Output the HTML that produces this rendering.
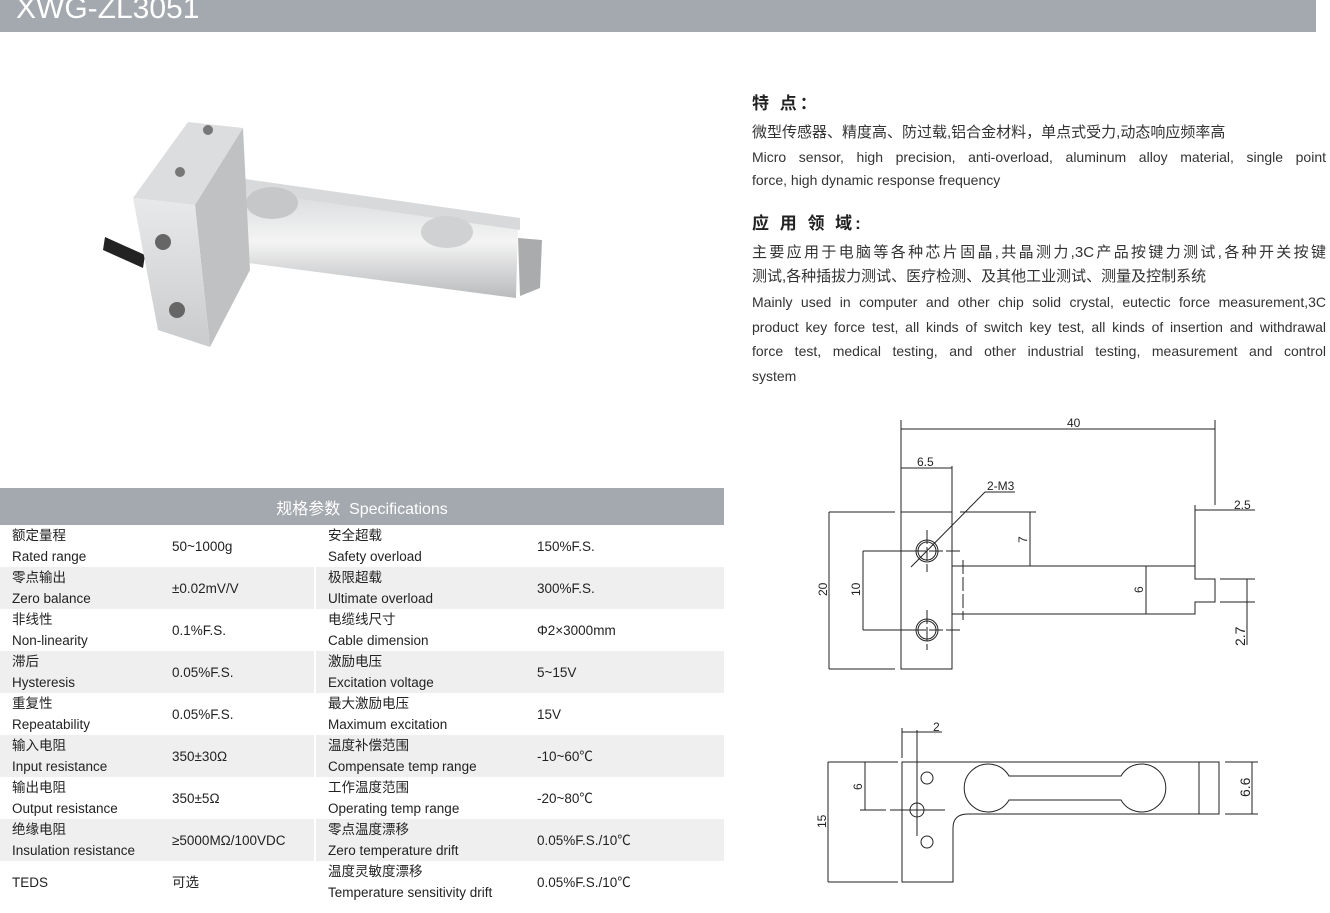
<!DOCTYPE html>
<html><head><meta charset="utf-8">
<style>
*{margin:0;padding:0;box-sizing:border-box}
body{width:1330px;height:913px;background:#fff;position:relative;overflow:hidden;font-family:"Liberation Sans","Noto Sans CJK SC",sans-serif;color:#333}
.hdr{position:absolute;left:0;top:0;width:1316px;height:32px;background:#a3a9ae}
.hdr span{position:absolute;left:16px;top:-8px;font-size:30px;color:#fff;letter-spacing:0px}
.t{position:absolute;left:752px;width:574px;font-size:14px;line-height:24px;color:#333;text-align:justify;text-align-last:justify}
.h{position:absolute;left:752px;font-size:17px;font-weight:bold;color:#222;letter-spacing:3px}
table{position:absolute;left:0;top:488px;width:724px;border-collapse:collapse;font-size:13.5px;color:#222}
th{height:37px;background:#a3a9ae;color:#fff;font-weight:normal;font-size:16px}
td{height:42px;padding-left:12px;vertical-align:middle;line-height:21px}
tr.g td{background:#efefef}
td.s{border-right:2px solid #fff}
</style></head><body>
<div class="hdr"><span>XWG-ZL3051</span></div>

<svg style="position:absolute;left:0;top:0" width="700" height="420">
<defs>
<linearGradient id="a" x1="0" y1="0" x2="0" y2="1"><stop offset="0" stop-color="#e8e9eb"/><stop offset="1" stop-color="#c9cbcd"/></linearGradient>
<linearGradient id="b" x1="0" y1="0" x2="0" y2="1"><stop offset="0" stop-color="#d5d7d9"/><stop offset="0.5" stop-color="#f4f4f4"/><stop offset="1" stop-color="#b8babc"/></linearGradient>
</defs>
<path d="M105 237 L145 255 L143 268 L103 250Z" fill="#222"/>
<path d="M518 238 L542 240 L540 288 L520 296Z" fill="#a9abad"/>
<path d="M225 185 L518 222 L516 298 L225 260Z" fill="url(#b)"/>
<path d="M238 178 L520 218 L520 230 L238 190Z" fill="#d8d9db"/>
<ellipse cx="272" cy="203" rx="26" ry="16" fill="#c5c7c9"/>
<ellipse cx="447" cy="232" rx="26" ry="16" fill="#cfd1d3"/>
<path d="M188 122 L243 128 L195 205 L133 198Z" fill="#dcdddf"/>
<path d="M195 205 L243 128 L250 270 L210 347Z" fill="#bfc1c3"/>
<path d="M133 198 L195 205 L210 347 L158 330Z" fill="url(#a)"/>
<circle cx="208" cy="130" r="5" fill="#777"/><circle cx="180" cy="172" r="5" fill="#777"/>
<circle cx="163" cy="242" r="8" fill="#666"/><circle cx="177" cy="310" r="8" fill="#666"/>
</svg>

<div class="h" style="top:89px">特 点：</div>
<div class="t" style="top:121px;font-size:15px;text-align-last:left">微型传感器、精度高、防过载,铝合金材料，单点式受力,动态响应频率高</div>
<div class="t" style="top:145px">Micro sensor, high precision, anti-overload, aluminum alloy material, single point</div>
<div class="t" style="top:168px;text-align-last:left">force, high dynamic response frequency</div>
<div class="h" style="top:209px">应 用 领 域:</div>
<div class="t" style="top:241px;font-size:15px">主要应用于电脑等各种芯片固晶,共晶测力,3C产品按键力测试,各种开关按键</div>
<div class="t" style="top:265px;font-size:15px;text-align-last:left">测试,各种插拔力测试、医疗检测、及其他工业测试、测量及控制系统</div>
<div class="t" style="top:290px">Mainly used in computer and other chip solid crystal, eutectic force measurement,3C</div>
<div class="t" style="top:315px">product key force test, all kinds of switch key test, all kinds of insertion and withdrawal</div>
<div class="t" style="top:339px">force test, medical testing, and other industrial testing, measurement and control</div>
<div class="t" style="top:364px;text-align-last:left">system</div>

<svg style="position:absolute;left:780px;top:400px" width="520" height="500" font-family="Liberation Sans" font-size="12" fill="none" stroke="#222" stroke-width="1">
<g transform="translate(-780,-400)">
<rect x="901" y="512" width="51" height="157"/>
<path d="M952 566 H1195 V579 H1215 V602 H1195 V614 H952"/>
<circle cx="927" cy="551" r="11"/><circle cx="927" cy="551" r="9"/>
<circle cx="927" cy="630" r="11"/><circle cx="927" cy="630" r="9"/>
<path d="M927 530V572 M927 610V650 M895 551H960 M895 630H960 M963 560V620" stroke-dasharray="14 3"/>
<path d="M901 512V420 M1215 505V420 M901 429H1215 M952 466V512 M901 468H952 M1195 505V566 M1195 510H1255 M829 512H895 M829 669H895 M829 512V669 M863 551H920 M863 630H920 M863 551V630 M960 512H1036 M1030 512V566 M1146 566V614 M1220 579H1255 M1220 602H1255 M1247 579V645 M911 567L985 492H1015"/>
<g fill="#222" stroke="none">
<text x="1067" y="427">40</text><text x="917" y="466">6.5</text><text x="987" y="490">2-M3</text><text x="1234" y="509">2.5</text>
<text transform="translate(827,596) rotate(-90)">20</text><text transform="translate(860,596) rotate(-90)">10</text>
<text transform="translate(1027,543) rotate(-90)">7</text><text transform="translate(1143,593) rotate(-90)">6</text>
<text transform="translate(1245,646) rotate(-90)" font-size="14">2.7</text>
<text x="933" y="731">2</text><text transform="translate(826,828) rotate(-90)">15</text><text transform="translate(862,790) rotate(-90)">6</text>
<text transform="translate(1250,797) rotate(-90)" font-size="14">6.6</text>
</g>
<path d="M902 762H1219V814H968Q953 814 953 828V882H902Z"/>
<path d="M1199 762V814"/>
<path d="M1009 776H1121 A24 24 0 1 1 1121 800 H1009 A24 24 0 1 1 1009 776Z"/>
<circle cx="927" cy="778" r="6"/><circle cx="927" cy="842" r="6"/><circle cx="917" cy="810" r="7"/>
<path d="M917 730V836 M890 810H945 M902 728V758 M902 732H917 M917 732H942 M828 762H898 M828 882H898 M828 762V882 M865 762H898 M865 762V810 M860 810H886 M1225 762H1258 M1225 814H1258 M1252 762V814"/>
</g></svg>

<table>
<tr><th colspan="4">规格参数&nbsp; Specifications</th></tr>
<tr><td style="width:160px">额定量程<br>Rated range</td><td class="s" style="width:155px">50~1000g</td><td style="width:210px">安全超载<br>Safety overload</td><td>150%F.S.</td></tr>
<tr class="g"><td>零点输出<br>Zero balance</td><td class="s">±0.02mV/V</td><td>极限超载<br>Ultimate overload</td><td>300%F.S.</td></tr>
<tr><td>非线性<br>Non-linearity</td><td class="s">0.1%F.S.</td><td>电缆线尺寸<br>Cable dimension</td><td>Φ2×3000mm</td></tr>
<tr class="g"><td>滞后<br>Hysteresis</td><td class="s">0.05%F.S.</td><td>激励电压<br>Excitation voltage</td><td>5~15V</td></tr>
<tr><td>重复性<br>Repeatability</td><td class="s">0.05%F.S.</td><td>最大激励电压<br>Maximum excitation</td><td>15V</td></tr>
<tr class="g"><td>输入电阻<br>Input resistance</td><td class="s">350±30Ω</td><td>温度补偿范围<br>Compensate temp range</td><td>-10~60℃</td></tr>
<tr><td>输出电阻<br>Output resistance</td><td class="s">350±5Ω</td><td>工作温度范围<br>Operating temp range</td><td>-20~80℃</td></tr>
<tr class="g"><td>绝缘电阻<br>Insulation resistance</td><td class="s">≥5000MΩ/100VDC</td><td>零点温度漂移<br>Zero temperature drift</td><td>0.05%F.S./10℃</td></tr>
<tr><td>TEDS</td><td class="s">可选</td><td>温度灵敏度漂移<br>Temperature sensitivity drift</td><td>0.05%F.S./10℃</td></tr>
</table>
</body></html>
